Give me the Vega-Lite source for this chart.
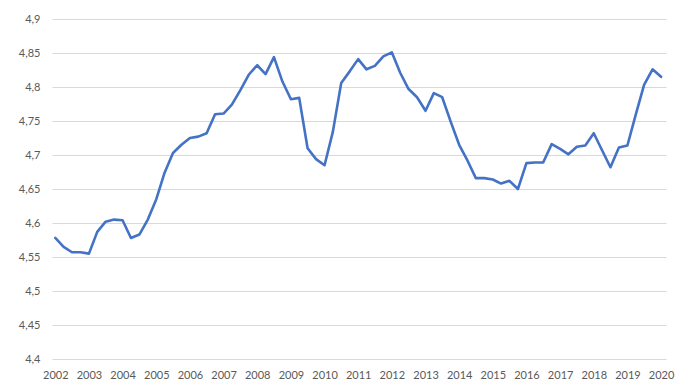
{
  "$schema": "https://vega.github.io/schema/vega-lite/v6.json",
  "width": 614,
  "height": 340,
  "autosize": {"type": "none"},
  "padding": {"left": 52, "top": 19, "right": 19, "bottom": 30},
  "background": "white",
  "config": {
    "view": {"stroke": null},
    "axis": {"labelFont": "Lato", "labelFontSize": 11, "labelColor": "#595959", "ticks": false, "domain": false, "gridColor": "#d9d9d9", "gridWidth": 1}
  },
  "data": {"values": [
    {"date": "2002-01-01", "value": 4.578},
    {"date": "2002-04-01", "value": 4.565},
    {"date": "2002-07-01", "value": 4.557},
    {"date": "2002-10-01", "value": 4.557},
    {"date": "2003-01-01", "value": 4.555},
    {"date": "2003-04-01", "value": 4.587},
    {"date": "2003-07-01", "value": 4.602},
    {"date": "2003-10-01", "value": 4.605},
    {"date": "2004-01-01", "value": 4.604},
    {"date": "2004-04-01", "value": 4.578},
    {"date": "2004-07-01", "value": 4.583},
    {"date": "2004-10-01", "value": 4.605},
    {"date": "2005-01-01", "value": 4.635},
    {"date": "2005-04-01", "value": 4.674},
    {"date": "2005-07-01", "value": 4.703},
    {"date": "2005-10-01", "value": 4.715},
    {"date": "2006-01-01", "value": 4.725},
    {"date": "2006-04-01", "value": 4.727},
    {"date": "2006-07-01", "value": 4.732},
    {"date": "2006-10-01", "value": 4.760},
    {"date": "2007-01-01", "value": 4.761},
    {"date": "2007-04-01", "value": 4.774},
    {"date": "2007-07-01", "value": 4.795},
    {"date": "2007-10-01", "value": 4.818},
    {"date": "2008-01-01", "value": 4.832},
    {"date": "2008-04-01", "value": 4.819},
    {"date": "2008-07-01", "value": 4.844},
    {"date": "2008-10-01", "value": 4.808},
    {"date": "2009-01-01", "value": 4.782},
    {"date": "2009-04-01", "value": 4.784},
    {"date": "2009-07-01", "value": 4.710},
    {"date": "2009-10-01", "value": 4.694},
    {"date": "2010-01-01", "value": 4.685},
    {"date": "2010-04-01", "value": 4.734},
    {"date": "2010-07-01", "value": 4.806},
    {"date": "2010-10-01", "value": 4.823},
    {"date": "2011-01-01", "value": 4.841},
    {"date": "2011-04-01", "value": 4.826},
    {"date": "2011-07-01", "value": 4.831},
    {"date": "2011-10-01", "value": 4.845},
    {"date": "2012-01-01", "value": 4.851},
    {"date": "2012-04-01", "value": 4.821},
    {"date": "2012-07-01", "value": 4.797},
    {"date": "2012-10-01", "value": 4.785},
    {"date": "2013-01-01", "value": 4.765},
    {"date": "2013-04-01", "value": 4.791},
    {"date": "2013-07-01", "value": 4.785},
    {"date": "2013-10-01", "value": 4.749},
    {"date": "2014-01-01", "value": 4.715},
    {"date": "2014-04-01", "value": 4.692},
    {"date": "2014-07-01", "value": 4.666},
    {"date": "2014-10-01", "value": 4.666},
    {"date": "2015-01-01", "value": 4.664},
    {"date": "2015-04-01", "value": 4.658},
    {"date": "2015-07-01", "value": 4.662},
    {"date": "2015-10-01", "value": 4.650},
    {"date": "2016-01-01", "value": 4.688},
    {"date": "2016-04-01", "value": 4.689},
    {"date": "2016-07-01", "value": 4.689},
    {"date": "2016-10-01", "value": 4.716},
    {"date": "2017-01-01", "value": 4.709},
    {"date": "2017-04-01", "value": 4.701},
    {"date": "2017-07-01", "value": 4.712},
    {"date": "2017-10-01", "value": 4.714},
    {"date": "2018-01-01", "value": 4.732},
    {"date": "2018-04-01", "value": 4.707},
    {"date": "2018-07-01", "value": 4.682},
    {"date": "2018-10-01", "value": 4.711},
    {"date": "2019-01-01", "value": 4.714},
    {"date": "2019-04-01", "value": 4.759},
    {"date": "2019-07-01", "value": 4.803},
    {"date": "2019-10-01", "value": 4.826},
    {"date": "2020-01-01", "value": 4.815}
  ]},
  "mark": {"type": "line", "color": "#4472C4", "strokeWidth": 2.6, "strokeJoin": "round", "strokeCap": "round"},
  "encoding": {
    "x": {
      "field": "date", "type": "temporal",
      "scale": {"domain": ["2001-11-26", "2020-02-24"]},
      "axis": {"title": null, "grid": false, "format": "%Y", "tickCount": {"interval": "year", "step": 1}, "labelPadding": 10, "labelFlush": false, "labelOverlap": false, "labelAlign": "center"}
    },
    "y": {
      "field": "value", "type": "quantitative",
      "scale": {"domain": [4.4, 4.9], "nice": false, "zero": false},
      "axis": {"title": null, "values": [4.4, 4.45, 4.5, 4.55, 4.6, 4.65, 4.7, 4.75, 4.8, 4.85, 4.9], "labelExpr": "replace(format(datum.value, '.2~f'), '.', ',')", "labelPadding": 12}
    }
  }
}
